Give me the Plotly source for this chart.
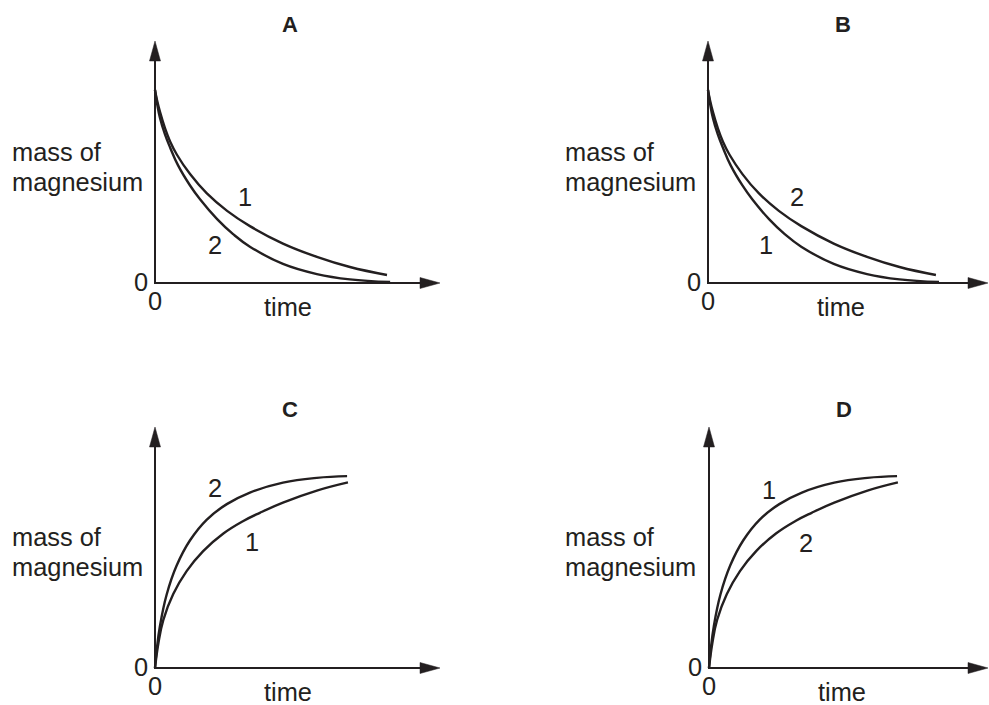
import plotly.graph_objects as go

W, H = 989, 705
INK = "#231f20"
FONT = "Liberation Sans, Arial, sans-serif"

# ---- data (time and mass in arbitrary units, 0-100 = axis length) ----
# decreasing curves (panels A and B)
slow_decay_t = [0, 0.7, 1.75, 3.5, 5.3, 7.7, 12.3, 18.2, 25.3, 33.3, 44.9, 56.8, 68.4, 81.4]
slow_decay_m = [79.8, 75.6, 70.7, 64.0, 58.5, 53.0, 45.0, 37.0, 29.8, 23.5, 16.3, 10.8, 6.6, 3.3]
fast_decay_t = [0, 0.7, 1.75, 3.5, 5.3, 8.1, 12.3, 15.8, 21.8, 27.4, 33.3, 44.9, 56.8, 68.4, 82.5]
fast_decay_m = [79.8, 74.4, 68.2, 61.4, 56.0, 48.6, 40.3, 34.6, 26.4, 20.2, 15.0, 7.9, 3.7, 1.5, 0.4]

# increasing curves (panels C and D)
fast_rise_t = [0, 0.6, 1.75, 4.1, 7.6, 12.3, 18.1, 25.2, 33.3, 44.9, 56.8, 67.4]
fast_rise_m = [0, 7.5, 17.5, 30.5, 42.5, 53.0, 61.5, 68.0, 72.8, 76.9, 78.9, 79.6]
slow_rise_t = [0, 1.2, 2.9, 6.4, 11.1, 16.9, 24.0, 31.0, 36.8, 44.9, 56.8, 67.7]
slow_rise_m = [0, 10.4, 19.9, 30.7, 40.2, 48.5, 55.8, 61.0, 64.4, 68.6, 73.6, 77.0]

panel_letters = ["A", "B", "C", "D"]
y_label_lines = ["mass of", "magnesium"]
x_label = "time"
origin_labels = ["0", "0"]

# curves per panel: (t, m, curve label)
panel_curves = {
    "A": [(slow_decay_t, slow_decay_m, "1"), (fast_decay_t, fast_decay_m, "2")],
    "B": [(slow_decay_t, slow_decay_m, "2"), (fast_decay_t, fast_decay_m, "1")],
    "C": [(fast_rise_t, fast_rise_m, "2"), (slow_rise_t, slow_rise_m, "1")],
    "D": [(fast_rise_t, fast_rise_m, "1"), (slow_rise_t, slow_rise_m, "2")],
}

# ---- layout (pixel geometry) ----
# x of y-axis, x of arrow tip, y of x-axis, y of arrow tip
geom = {
    "A": (155, 440, 283, 41),
    "B": (708, 988, 283, 41),
    "C": (155, 440, 668, 427),
    "D": (709, 988, 668, 427),
}
# curve label positions (pixels), same order as panel_curves
curve_label_pos = {
    "A": [(245, 197), (215, 245)],
    "B": [(797, 197), (766, 245)],
    "C": [(215, 488), (252, 542)],
    "D": [(769, 490), (806, 543)],
}


def px(x):
    return x / W


def py(y):
    return 1 - y / H


fig = go.Figure()
shapes = []
annotations = []


def text(x, y, s, size=25.4, xanchor="center", bold=False):
    annotations.append(dict(
        x=px(x), y=py(y), xref="paper", yref="paper", text=f"<b>{s}</b>" if bold else s,
        showarrow=False, xanchor=xanchor, yanchor="middle",
        font=dict(family=FONT, size=size, color=INK),
    ))


PAD = 12  # extra pixels around the plotting area so lines at 0 are not clipped
for i, p in enumerate(panel_letters):
    x0, xt, yb, yt = geom[p]
    n = "" if i == 0 else str(i + 1)
    xa, ya = "xaxis" + n, "yaxis" + n
    xr, yr = "x" + n, "y" + n
    sx = (xt - x0) / 100.0  # px per unit
    sy = (yb - yt) / 100.0
    fig.layout[xa] = dict(domain=[px(x0 - PAD), px(xt)], range=[-PAD / sx, 100], visible=False,
                          anchor=yr, fixedrange=True)
    fig.layout[ya] = dict(domain=[py(yb + PAD), py(yt)], range=[-PAD / sy, 100], visible=False,
                          anchor=xr, fixedrange=True)

    for t, m, lab in panel_curves[p]:
        fig.add_trace(go.Scatter(x=t, y=m, mode="lines", xaxis=xr, yaxis=yr,
                                 line=dict(color=INK, width=2.4, shape="spline", smoothing=1.2),
                                 hoverinfo="skip", showlegend=False))

    # axis lines (paper coordinates)
    ah_len, ah_half = 20, 5.5
    shapes.append(dict(type="line", xref="paper", yref="paper", x0=px(x0), y0=py(yb),
                       x1=px(x0), y1=py(yt + ah_len), line=dict(color=INK, width=2)))
    shapes.append(dict(type="line", xref="paper", yref="paper", x0=px(x0 - 1), y0=py(yb),
                       x1=px(xt - ah_len), y1=py(yb), line=dict(color=INK, width=2)))
    # arrow heads
    shapes.append(dict(type="path", xref="paper", yref="paper",
                       path=(f"M {px(x0)} {py(yt)} L {px(x0 - ah_half)} {py(yt + ah_len)} "
                             f"L {px(x0 + ah_half)} {py(yt + ah_len)} Z"),
                       fillcolor=INK, line=dict(color=INK, width=0.5)))
    shapes.append(dict(type="path", xref="paper", yref="paper",
                       path=(f"M {px(xt)} {py(yb)} L {px(xt - ah_len)} {py(yb - ah_half)} "
                             f"L {px(xt - ah_len)} {py(yb + ah_half)} Z"),
                       fillcolor=INK, line=dict(color=INK, width=0.5)))

    # texts
    text(x0 + 135, yt - 17, p, size=22, bold=True)
    lx = 10 if x0 < 500 else 563
    text(lx, yb - 131, y_label_lines[0], xanchor="left")
    text(lx, yb - 101, y_label_lines[1], xanchor="left")
    text(x0 - 14, yb - 1, origin_labels[0])
    text(x0, yb + 18, origin_labels[1])
    text(x0 + 133, yb + 24, x_label)
    for (cx, cy), (_, _, lab) in zip(curve_label_pos[p], panel_curves[p]):
        text(cx, cy, lab)

fig.update_layout(
    width=W, height=H, margin=dict(l=0, r=0, t=0, b=0),
    paper_bgcolor="white", plot_bgcolor="rgba(0,0,0,0)",
    shapes=shapes, annotations=annotations, showlegend=False,
)

fig.write_html("out.html", config={"displayModeBar": False, "staticPlot": True},
               post_script="document.body.style.margin='0';document.body.style.overflow='hidden';")
